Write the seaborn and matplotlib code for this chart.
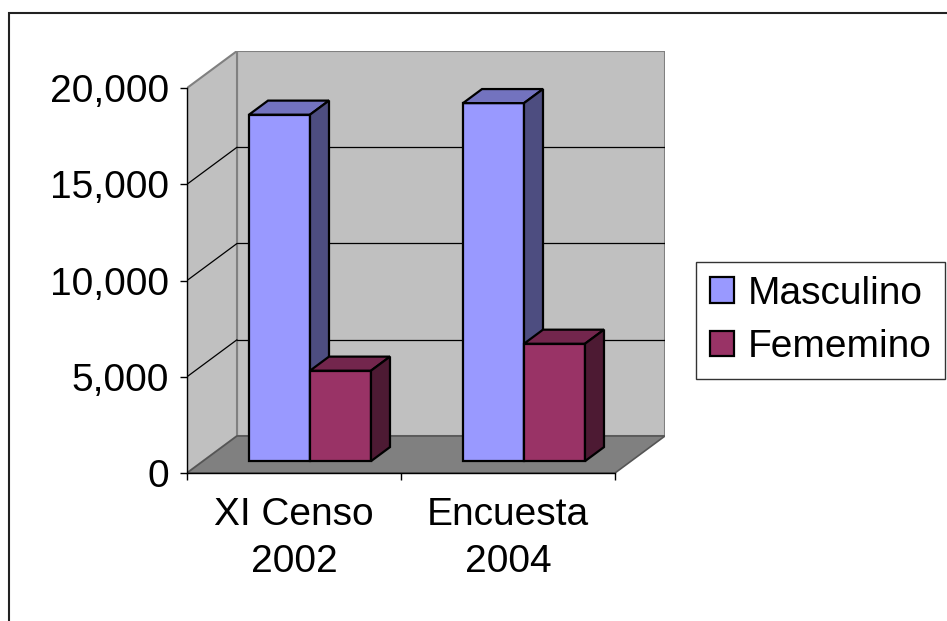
import numpy as np
import pandas as pd
import matplotlib
matplotlib.use('Agg')
import matplotlib.pyplot as plt
import seaborn as sns
from matplotlib.patches import Polygon, Rectangle, Patch
from matplotlib.ticker import StrMethodFormatter

# data
fuentes = ['XI Censo\n2002', 'Encuesta\n2004']
masculino = [18000, 18600]
femenino = [4700, 6100]
sexos = ['Masculino', 'Fememino']
colores = ['#9999FF', '#993366']
y_ticks = [0, 5000, 10000, 15000, 20000]

df = pd.DataFrame({
    'fuente': fuentes * 2,
    'poblacion': masculino + femenino,
    'sexo': [sexos[0]] * 2 + [sexos[1]] * 2,
})

sns.set_theme(style='white')
plt.rcParams['font.family'] = ['Liberation Sans', 'DejaVu Sans']
plt.rcParams['text.color'] = 'black'
plt.rcParams['xtick.color'] = 'black'
plt.rcParams['ytick.color'] = 'black'
FS = 28

fig = plt.figure(figsize=(9.47, 6.21), dpi=100)
ax = fig.add_axes([187/947, 148/621, 478/947, 422/621])

# fake 3d depth (in data units)
DX = 50/214
DY = 1923
d_front, d_back = 0.32, 0.70
ymax = 20000

sns.barplot(data=df, x='fuente', y='poblacion', hue='sexo', palette=colores,
            saturation=1, width=0.57, edgecolor='black', linewidth=1.6,
            legend=False, ax=ax)
bars = [p for p in ax.patches if isinstance(p, Rectangle)]
bars = sorted(bars, key=lambda p: p.get_x())

# walls and floor
wall = '#C0C0C0'
edge = '#808080'
ax.add_patch(Polygon([(-0.5+DX, DY), (1.5+DX, DY), (1.5+DX, ymax+DY), (-0.5+DX, ymax+DY)],
                     closed=True, facecolor=wall, edgecolor=edge, lw=1.5, zorder=0.5))
ax.add_patch(Polygon([(-0.5, 0), (-0.5+DX, DY), (-0.5+DX, ymax+DY), (-0.5, ymax)],
                     closed=True, facecolor=wall, edgecolor=edge, lw=1.5, zorder=0.5))
ax.add_patch(Polygon([(-0.5, 0), (1.5, 0), (1.5+DX, DY), (-0.5+DX, DY)],
                     closed=True, facecolor='#808080', edgecolor='#555555', lw=1.2, zorder=0.6))
for v in y_ticks[1:-1]:
    ax.plot([-0.5+DX, 1.5+DX], [v+DY, v+DY], color='black', lw=0.9, zorder=0.7)
    ax.plot([-0.5, -0.5+DX], [v, v+DY], color='black', lw=0.9, zorder=0.7)

# turn the flat bars into boxes
for i, p in enumerate(bars):
    h = p.get_height()
    w = p.get_width()
    x0 = p.get_x() + d_front*DX
    y0 = d_front*DY
    p.set_x(x0)
    p.set_y(y0)
    p.set_zorder(3 + i)
    rgb = np.array(p.get_facecolor()[:3])
    ox = (d_back - d_front)*DX
    oy = (d_back - d_front)*DY
    top = Polygon([(x0, y0+h), (x0+w, y0+h), (x0+w+ox, y0+h+oy), (x0+ox, y0+h+oy)],
                  closed=True, facecolor=rgb*0.75, edgecolor='black', lw=1.6, zorder=3+i)
    side = Polygon([(x0+w, y0), (x0+w+ox, y0+oy), (x0+w+ox, y0+h+oy), (x0+w, y0+h)],
                   closed=True, facecolor=rgb*0.5, edgecolor='black', lw=1.6, zorder=3+i)
    ax.add_patch(top)
    ax.add_patch(side)

ax.set_xlim(-0.5, 1.5+DX)
ax.set_ylim(0, ymax+DY)
ax.set_facecolor('none')
for s in ['top', 'right']:
    ax.spines[s].set_visible(False)
ax.spines['left'].set_bounds(0, ymax)
ax.spines['bottom'].set_bounds(-0.5, 1.5)
for s in ['left', 'bottom']:
    ax.spines[s].set_color('black')
    ax.spines[s].set_linewidth(1.0)

ax.set_yticks(y_ticks)
ax.yaxis.set_major_formatter(StrMethodFormatter('{x:,.0f}'))
ax.tick_params(axis='y', which='major', direction='out', length=5, width=1,
               color='black', left=True, pad=8, labelsize=FS)
ax.set_xticks([-0.5, 0.5, 1.5])
ax.set_xticklabels(['', '', ''])
ax.set_xticks([0, 1], minor=True)
ax.set_xticklabels(fuentes, minor=True)
ax.tick_params(axis='x', which='major', direction='out', length=5, width=1,
               color='black', bottom=True)
ax.tick_params(axis='x', which='minor', length=0, pad=17, labelsize=FS)
plt.setp(ax.get_xticklabels(minor=True), linespacing=1.4)
ax.set_xlabel('')
ax.set_ylabel('')

handles = [Patch(facecolor=c, edgecolor='black', lw=1.6) for c in colores]
leg = ax.legend(handles, sexos, loc='upper left', bbox_to_anchor=(696/947, 1-262/621),
                bbox_transform=fig.transFigure, borderaxespad=0, fontsize=FS,
                frameon=True, fancybox=False, handlelength=0.62, handleheight=0.62,
                handletextpad=0.35, borderpad=0.35, labelspacing=0.45)
leg.get_frame().set_edgecolor('black')
leg.get_frame().set_linewidth(1.0)

# outer chart border
fig.add_artist(Rectangle((9/947, -0.1), 1.2, 1.1 - 13/621, transform=fig.transFigure,
                         fill=False, edgecolor='#222222', lw=1.5))

fig.savefig('out.png', dpi=100)
